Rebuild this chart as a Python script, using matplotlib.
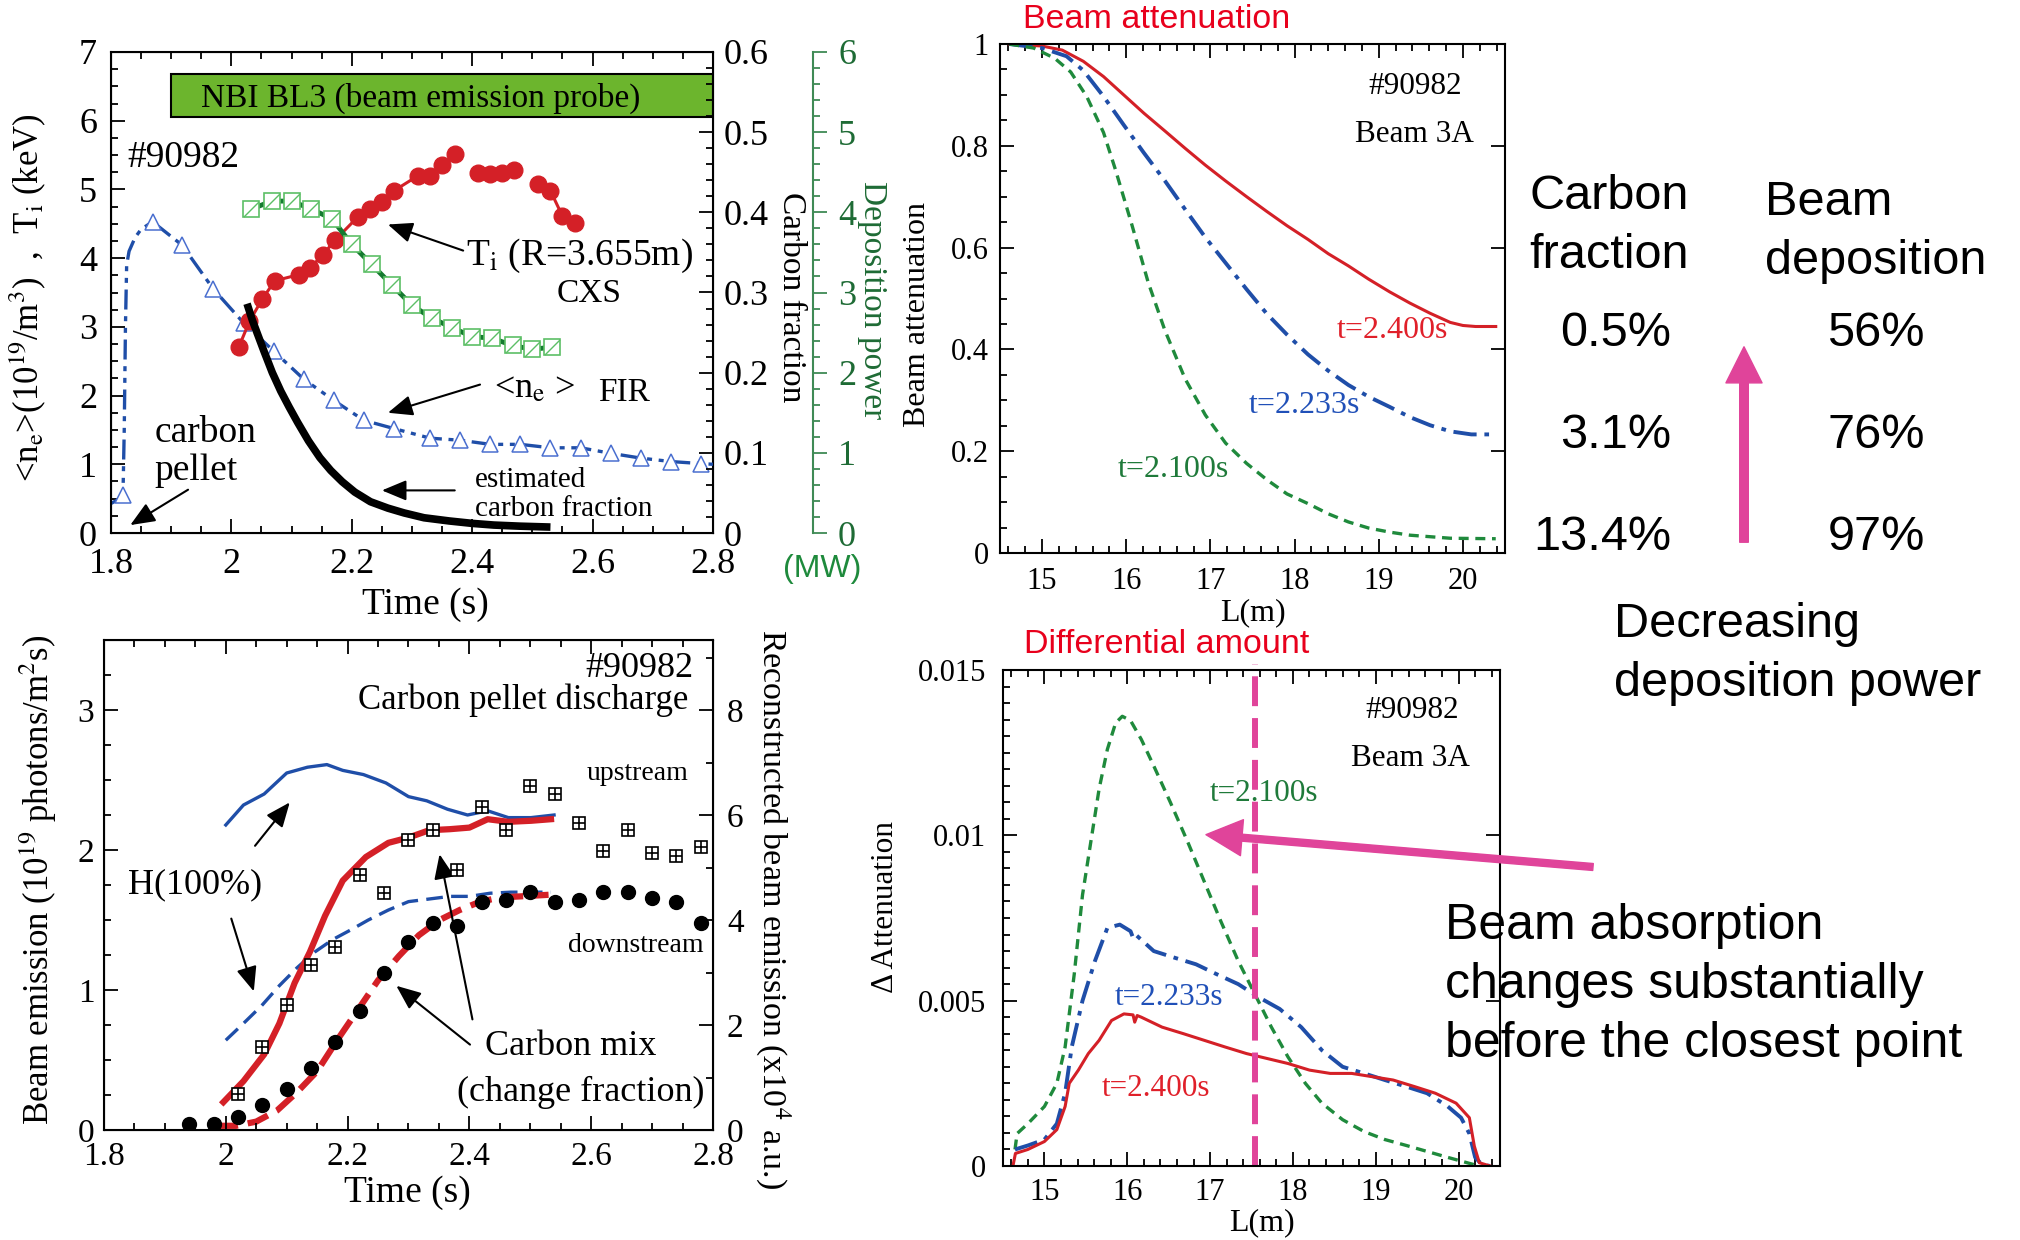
import numpy as np
import matplotlib
matplotlib.use("Agg")
import matplotlib.pyplot as plt
from matplotlib.path import Path
from matplotlib.patches import Rectangle, FancyArrowPatch
from matplotlib.ticker import MultipleLocator, FuncFormatter

plt.rcParams['font.family'] = ['Liberation Serif', 'DejaVu Serif']
plt.rcParams['mathtext.fontset'] = 'stix'

W, H = 2020, 1240
SANS = ['Liberation Sans', 'DejaVu Sans']

RED = '#d42027'
BLUE = '#1f4ea8'
GREEN = '#1f8a3c'
PINK = '#e0449a'
TITLE_RED = '#e8001c'

# ---------------- top left : density, Ti, carbon fraction, deposition ----------------
ne_line_t = [1.800, 1.815, 1.820, 1.822, 1.824, 1.826, 1.830, 1.840, 1.850, 1.869, 1.918, 1.970,
             2.021, 2.070, 2.120, 2.170, 2.220, 2.270, 2.330, 2.380, 2.430, 2.480, 2.530, 2.580,
             2.630, 2.680, 2.730, 2.780, 2.800]
ne_line_v = [0.43, 0.50, 0.60, 1.50, 3.00, 3.90, 4.10, 4.30, 4.42, 4.53, 4.19, 3.55,
             3.05, 2.65, 2.24, 1.93, 1.64, 1.52, 1.38, 1.35, 1.29, 1.29, 1.24, 1.24,
             1.16, 1.09, 1.04, 1.01, 1.00]
ne_mark_t = [1.820, 1.869, 1.918, 1.970, 2.021, 2.070, 2.120, 2.170, 2.220, 2.270, 2.330, 2.380,
             2.430, 2.480, 2.530, 2.580, 2.630, 2.680, 2.730, 2.780]
ne_mark_v = [0.55, 4.53, 4.19, 3.55, 3.05, 2.65, 2.24, 1.93, 1.64, 1.52, 1.38, 1.35,
             1.29, 1.29, 1.24, 1.24, 1.16, 1.09, 1.04, 1.01]

ti_t = [2.012, 2.030, 2.051, 2.072, 2.112, 2.130, 2.152, 2.172, 2.210, 2.230, 2.250, 2.270,
        2.310, 2.330, 2.350, 2.372, 2.390, 2.410, 2.430, 2.450, 2.470, 2.490, 2.510, 2.530,
        2.550, 2.570]
ti_v = [2.70, 3.08, 3.40, 3.67, 3.76, 3.85, 4.05, 4.26, 4.60, 4.72, 4.82, 4.98,
        5.20, 5.19, 5.35, 5.51, np.nan, 5.24, 5.23, 5.24, 5.29, np.nan, 5.08, 4.98,
        4.61, 4.51]

cf_t = [2.026, 2.035, 2.045, 2.054, 2.068, 2.082, 2.096, 2.110, 2.128, 2.147, 2.165, 2.184,
        2.205, 2.231, 2.260, 2.287, 2.320, 2.362, 2.400, 2.436, 2.480, 2.530]
cf_v = [0.286, 0.265, 0.245, 0.227, 0.200, 0.177, 0.157, 0.138, 0.115, 0.094, 0.078, 0.064,
        0.051, 0.039, 0.031, 0.025, 0.019, 0.015, 0.012, 0.0099, 0.0085, 0.0074]

dep_t = [2.033, 2.067, 2.100, 2.133, 2.167, 2.200, 2.233, 2.267, 2.300, 2.333, 2.367, 2.400,
         2.433, 2.467, 2.500, 2.533]
dep_v = [4.04, 4.14, 4.14, 4.04, 3.92, 3.60, 3.35, 3.09, 2.84, 2.68, 2.56, 2.45,
         2.43, 2.34, 2.29, 2.32]

# ---------------- bottom left : beam emission ----------------
up_h_t = [2.000, 2.029, 2.063, 2.100, 2.134, 2.166, 2.192, 2.226, 2.263, 2.300, 2.330, 2.364,
          2.397, 2.430, 2.464, 2.501, 2.539]
up_h_v = [5.81, 6.19, 6.40, 6.80, 6.91, 6.96, 6.85, 6.77, 6.61, 6.35, 6.27, 6.11,
          6.00, 6.08, 5.95, 5.95, 6.00]
dn_h_t = [2.000, 2.029, 2.059, 2.088, 2.117, 2.146, 2.176, 2.205, 2.234, 2.267, 2.300, 2.334,
          2.368, 2.400, 2.434, 2.468, 2.501, 2.534]
dn_h_v = [1.71, 2.03, 2.37, 2.75, 3.09, 3.39, 3.63, 3.81, 4.00, 4.19, 4.35, 4.40,
          4.45, 4.45, 4.51, 4.53, 4.53, 4.53]
up_c_t = [1.996, 2.029, 2.063, 2.088, 2.113, 2.138, 2.163, 2.192, 2.230, 2.267, 2.300, 2.334,
          2.368, 2.400, 2.430, 2.464, 2.501, 2.534]
up_c_v = [0.53, 0.93, 1.44, 2.03, 2.80, 3.39, 4.08, 4.75, 5.20, 5.47, 5.57, 5.71,
          5.73, 5.76, 5.92, 5.87, 5.89, 5.92]
dn_c_t = [1.984, 2.017, 2.050, 2.084, 2.117, 2.150, 2.184, 2.217, 2.250, 2.284, 2.317, 2.351,
          2.384, 2.418, 2.451, 2.484, 2.530]
dn_c_v = [0.08, 0.08, 0.16, 0.37, 0.72, 1.12, 1.73, 2.29, 2.85, 3.31, 3.71, 4.00,
          4.19, 4.35, 4.43, 4.45, 4.48]

dn_meas_t = [1.94, 1.98, 2.02, 2.06, 2.10, 2.14, 2.18, 2.22, 2.26, 2.30, 2.34, 2.38,
             2.42, 2.46, 2.50, 2.54, 2.58, 2.62, 2.66, 2.70, 2.74, 2.78]
dn_meas_v = [0.04, 0.04, 0.09, 0.18, 0.29, 0.44, 0.63, 0.85, 1.12, 1.34, 1.48, 1.46,
             1.63, 1.64, 1.70, 1.63, 1.64, 1.70, 1.70, 1.66, 1.63, 1.48]
up_meas_t = [2.02, 2.06, 2.10, 2.14, 2.18, 2.22, 2.26, 2.30, 2.34, 2.38, 2.42, 2.46,
             2.50, 2.54, 2.58, 2.62, 2.66, 2.70, 2.74, 2.78]
up_meas_v = [0.26, 0.59, 0.89, 1.18, 1.31, 1.82, 1.69, 2.07, 2.14, 1.86, 2.31, 2.14,
             2.46, 2.40, 2.19, 1.99, 2.14, 1.98, 1.96, 2.02]

# ---------------- top right : beam attenuation ----------------
att_L_400 = [14.61, 15.00, 15.24, 15.49, 15.73, 15.97, 16.21, 16.46, 16.70, 16.94, 17.18, 17.43,
             17.67, 17.91, 18.16, 18.40, 18.64, 18.88, 19.13, 19.37, 19.61, 19.85, 20.00, 20.15,
             20.39]
att_v_400 = [1.000, 0.996, 0.988, 0.966, 0.936, 0.900, 0.864, 0.829, 0.795, 0.762, 0.731, 0.700,
             0.671, 0.643, 0.616, 0.588, 0.564, 0.538, 0.513, 0.491, 0.471, 0.453, 0.447, 0.445,
             0.445]
att_L_233 = [14.61, 15.00, 15.29, 15.49, 15.73, 15.97, 16.21, 16.46, 16.70, 16.94, 17.18, 17.43,
             17.67, 17.91, 18.16, 18.40, 18.64, 18.88, 19.13, 19.37, 19.61, 19.85, 20.10, 20.39]
att_v_233 = [1.000, 0.992, 0.976, 0.948, 0.897, 0.841, 0.786, 0.731, 0.675, 0.620, 0.570, 0.518,
             0.470, 0.429, 0.390, 0.358, 0.330, 0.307, 0.287, 0.267, 0.251, 0.239, 0.233, 0.233]
att_L_100 = [14.61, 14.90, 15.15, 15.34, 15.53, 15.73, 15.87, 16.07, 16.26, 16.46, 16.70, 16.94,
             17.18, 17.43, 17.67, 17.91, 18.16, 18.40, 18.64, 18.88, 19.13, 19.37, 19.85, 20.39]
att_v_100 = [1.000, 0.992, 0.972, 0.945, 0.897, 0.826, 0.754, 0.643, 0.532, 0.437, 0.342, 0.271,
             0.216, 0.176, 0.144, 0.116, 0.097, 0.077, 0.061, 0.049, 0.041, 0.035, 0.029, 0.028]

# ---------------- bottom right : differential attenuation ----------------
dif_L_100 = [14.645, 14.67, 14.80, 15.00, 15.15, 15.25, 15.36, 15.46, 15.56, 15.66, 15.76, 15.86,
             15.94, 16.04, 16.17, 16.32, 16.52, 16.73, 16.93, 17.13, 17.34, 17.54, 17.74, 17.94,
             18.15, 18.35, 18.60, 18.86, 19.11, 19.37, 19.62, 19.87, 20.13, 20.25]
dif_v_100 = [0.0005, 0.00098, 0.00128, 0.0018, 0.0025, 0.0036, 0.0058, 0.0082, 0.0098, 0.0114,
             0.0126, 0.0134, 0.0136, 0.01347, 0.0129, 0.0121, 0.0110, 0.0098, 0.0086, 0.0074,
             0.0062, 0.0052, 0.0042, 0.0033, 0.0025, 0.0019, 0.0014, 0.00104, 0.0008, 0.00062,
             0.00044, 0.00026, 0.00008, 0.0]
dif_L_233 = [14.645, 14.80, 15.00, 15.15, 15.25, 15.33, 15.46, 15.61, 15.76, 15.91, 16.04, 16.07,
             16.10, 16.32, 16.57, 16.83, 17.08, 17.34, 17.59, 17.84, 18.10, 18.35, 18.60, 18.86,
             19.11, 19.37, 19.62, 19.87, 20.03, 20.13, 20.20, 20.28, 20.38]
dif_v_233 = [0.0005, 0.00062, 0.0008, 0.00128, 0.0022, 0.0036, 0.0050, 0.0062, 0.0072, 0.0073,
             0.0071, 0.0069, 0.0070, 0.0065, 0.0063, 0.0061, 0.0058, 0.0055, 0.0051, 0.00475,
             0.0042, 0.0035, 0.0030, 0.0028, 0.0026, 0.0024, 0.0022, 0.0018, 0.00146, 0.00098,
             0.00026, 0.00005, 0.0]
dif_L_400 = [14.62, 14.65, 14.80, 15.00, 15.15, 15.25, 15.30, 15.41, 15.53, 15.66, 15.81, 15.96,
             16.07, 16.09, 16.12, 16.17, 16.42, 16.68, 16.93, 17.18, 17.44, 17.69, 17.94, 18.20,
             18.45, 18.71, 18.96, 19.21, 19.47, 19.72, 19.97, 20.13, 20.19, 20.25, 20.38]
dif_v_400 = [0.0, 0.00038, 0.0005, 0.00074, 0.0011, 0.0018, 0.0025, 0.0029, 0.0034, 0.0038,
             0.0044, 0.0046, 0.00457, 0.00435, 0.00455, 0.0045, 0.0042, 0.0040, 0.0038, 0.0036,
             0.0034, 0.00325, 0.0031, 0.0029, 0.0028, 0.0028, 0.0027, 0.0026, 0.0024, 0.0022,
             0.0019, 0.00146, 0.0006, 0.0001, 0.0]
closest_L = 17.54

carbon_fracs = ['0.5%', '3.1%', '13.4%']
depositions = ['56%', '76%', '97%']
row_y = [333, 435, 537]


def fmt(v, _):
    return '%g' % round(v, 6)


def style_axes(ax, size, xmaj, xmin, ymaj, ymin, pad_x, pad_y):
    ax.xaxis.set_major_locator(MultipleLocator(xmaj))
    ax.xaxis.set_minor_locator(MultipleLocator(xmin))
    ax.yaxis.set_major_locator(MultipleLocator(ymaj))
    ax.yaxis.set_minor_locator(MultipleLocator(ymin))
    ax.xaxis.set_major_formatter(FuncFormatter(fmt))
    ax.yaxis.set_major_formatter(FuncFormatter(fmt))
    ax.tick_params(which='both', direction='in', top=True, width=1.3)
    ax.tick_params(which='major', length=10)
    ax.tick_params(which='minor', length=5)
    ax.tick_params(axis='x', labelsize=size, pad=pad_x)
    ax.tick_params(axis='y', labelsize=size, pad=pad_y)
    for s in ax.spines.values():
        s.set_linewidth(1.5)


def center_labels(*labels):
    for lab in labels:
        lab.set_va('center')
        lab.set_ha('center')


fig = plt.figure(figsize=(W / 100, H / 100), dpi=100)

# ======================= top left =======================
tl_top, tl_bot = 52, 533
ax1 = fig.add_axes([111 / W, 1 - tl_bot / H, 602 / W, (tl_bot - tl_top) / H])
ax1.set_xlim(1.8, 2.8)
ax1.set_ylim(0, 7)
ax_cf = ax1.twinx()
ax_cf.set_ylim(0, 0.6)
ax_dp = ax1.twinx()
ax_dp.set_ylim(0, 6)

style_axes(ax1, 26, 0.2, 0.05, 1, 0.25, 11, 10)
ax1.tick_params(right=False)
ax_cf.yaxis.set_major_locator(MultipleLocator(0.1))
ax_cf.yaxis.set_minor_locator(MultipleLocator(0.02))
ax_cf.yaxis.set_major_formatter(FuncFormatter(fmt))
ax_cf.tick_params(which='both', direction='in', width=1.3, labelsize=26, pad=8)
ax_cf.tick_params(which='major', length=10)
ax_cf.tick_params(which='minor', length=5)

dp_spine = '#3f8a55'
for k in ['left', 'top', 'bottom']:
    ax_dp.spines[k].set_visible(False)
ax_dp.spines['right'].set_position(('axes', (813 - 111) / 602))
ax_dp.spines['right'].set_color(dp_spine)
ax_dp.spines['right'].set_linewidth(1.5)
ax_dp.yaxis.set_major_locator(MultipleLocator(1))
ax_dp.yaxis.set_minor_locator(MultipleLocator(0.2))
ax_dp.tick_params(which='both', direction='out', color=dp_spine, width=1.3,
                  labelcolor='#1e6b35', labelsize=26, pad=8)
ax_dp.tick_params(which='major', length=10)
ax_dp.tick_params(which='minor', length=5)

# NBI bar
ax1.add_patch(Rectangle((1.9, 6.05), 0.9, 0.63, facecolor='#6cb52d', edgecolor='k',
                        lw=1.5, zorder=2))
ax1.text(2.315, 6.33, 'NBI BL3 (beam emission probe)', ha='center', va='center',
         fontsize=24, zorder=3)

ax1.plot(ne_line_t, ne_line_v, color=BLUE, lw=2.4, dashes=[6, 2, 1.5, 2, 1.5, 2], zorder=3)
ax1.plot(ne_mark_t, ne_mark_v, ls='none', marker='^', ms=11, mfc='white', mec='#4a6fd0',
         mew=1.1, zorder=4)
ax1.plot(ti_t, ti_v, color=RED, lw=2.2, marker='o', ms=12, mfc=RED, mec=RED, zorder=4)
ax_cf.plot(cf_t, cf_v, color='k', lw=5.5, solid_capstyle='butt', zorder=3)
ax_dp.plot(dep_t, dep_v, color='#157a30', lw=3.5, zorder=3)
ax_dp.plot(dep_t, dep_v, ls='none', marker='s', ms=11, mfc='white', mec='#5cbf66',
           mew=1.2, zorder=4)
slash = Path([(-1, -1), (1, 1)], [Path.MOVETO, Path.LINETO])
ax_dp.plot(dep_t, dep_v, ls='none', marker=slash, ms=11, mec='#5cbf66', mew=1.0, zorder=5)

ax1.text(1.828, 5.46, '#90982', fontsize=27, ha='left', va='center')
ax1.text(2.39, 4.03, r'T$_\mathrm{i}$ (R=3.655m)', fontsize=27, ha='left', va='center')
ax1.text(2.595, 3.48, 'CXS', fontsize=24, ha='center', va='center')
ax1.text(2.436, 2.10, r'<n$_\mathrm{e}$ >', fontsize=26, ha='left', va='center')
ax1.text(2.609, 2.04, 'FIR', fontsize=24, ha='left', va='center')
ax1.text(1.872, 1.18, 'carbon\npellet', fontsize=27, ha='left', va='center', linespacing=1.15)
ax1.text(2.404, 0.56, 'estimated\ncarbon fraction', fontsize=21, ha='left', va='center',
         linespacing=1.15)

arr = dict(arrowstyle='-|>,head_length=0.6,head_width=0.25', mutation_scale=25, color='k',
           lw=1.5, shrinkA=0, shrinkB=0)
ax1.annotate('', xy=(2.26, 4.49), xytext=(2.385, 4.11), arrowprops=arr)
ax1.annotate('', xy=(2.26, 1.75), xytext=(2.413, 2.16), arrowprops=arr)
ax1.annotate('', xy=(1.832, 0.115), xytext=(1.928, 0.63), arrowprops=arr)
ax1.annotate('', xy=(2.25, 0.62), xytext=(2.371, 0.62), arrowprops=arr)

ax1.set_xlabel('Time (s)', fontsize=27)
ax1.xaxis.set_label_coords(0.523, -0.148)
ax1.set_ylabel(r'<n$_\mathrm{e}$>(10$^{19}$/m$^3$)  ,  T$_\mathrm{i}$ (keV)', fontsize=25)
ax1.yaxis.set_label_coords(-0.138, 0.49)
ax_cf.set_ylabel('Carbon fraction', fontsize=24, rotation=270)
ax_cf.yaxis.set_label_coords(1.130, 0.49)
ax_dp.set_ylabel('Deposition power', fontsize=24, rotation=270, color='#1e6b35')
ax_dp.yaxis.set_label_coords(1.264, 0.485)
center_labels(ax1.xaxis.label, ax1.yaxis.label, ax_cf.yaxis.label, ax_dp.yaxis.label)
ax1.text(1.181, -0.075, '(MW)', transform=ax1.transAxes, fontsize=23, family=SANS,
         color='#1e8a3c', ha='center', va='center')

# ======================= bottom left =======================
ax2 = fig.add_axes([104 / W, 1 - 1130 / H, 609 / W, 490 / H])
ax2.set_xlim(1.8, 2.8)
ax2.set_ylim(0, 3.5)
ax2r = ax2.twinx()
ax2r.set_ylim(0, 3.5 * 8 / 3)
style_axes(ax2, 24, 0.2, 0.05, 1, 0.25, 8, 7)
ax2.tick_params(right=False)
ax2r.yaxis.set_major_locator(MultipleLocator(2))
ax2r.yaxis.set_minor_locator(MultipleLocator(1))
ax2r.tick_params(which='both', direction='in', width=1.3, labelsize=24, pad=10)
ax2r.tick_params(which='major', length=10)
ax2r.tick_params(which='minor', length=5)

ax2r.plot(up_h_t, up_h_v, color=BLUE, lw=2.4)
ax2r.plot(dn_h_t, dn_h_v, color=BLUE, lw=2.4, dashes=[5, 2.5])
ax2r.plot(up_c_t, up_c_v, color=RED, lw=4.5)
ax2r.plot(dn_c_t, dn_c_v, color=RED, lw=4.5, dashes=[3.5, 1.6])
ax2.plot(dn_meas_t, dn_meas_v, ls='none', marker='o', ms=10, color='k', zorder=5)
ax2.plot(up_meas_t, up_meas_v, ls='none', marker='s', ms=9, mfc='white', mec='k', mew=1.2,
         zorder=5)
ax2.plot(up_meas_t, up_meas_v, ls='none', marker='+', ms=9, mec='k', mew=1.2, zorder=6)
ax2.set_zorder(ax2r.get_zorder() + 1)
ax2.patch.set_visible(False)

ax2.text(2.768, 3.30, '#90982', fontsize=26, ha='right', va='center')
ax2.text(2.76, 3.07, 'Carbon pellet discharge', fontsize=25, ha='right', va='center')
ax2.text(2.76, 2.55, 'upstream', fontsize=20, ha='right', va='center')
ax2.text(2.785, 1.315, 'downstream', fontsize=20, ha='right', va='center')
ax2.text(1.84, 1.754, 'H(100%)', fontsize=26, ha='left', va='center')
ax2.text(2.426, 0.594, 'Carbon mix', fontsize=26, ha='left', va='center')
ax2.text(2.38, 0.269, '(change fraction)', fontsize=26, ha='left', va='center')
ax2.annotate('', xy=(2.105, 2.34), xytext=(2.048, 2.03), arrowprops=arr)
ax2.annotate('', xy=(2.046, 0.99), xytext=(2.009, 1.51), arrowprops=arr)
ax2.annotate('', xy=(2.351, 1.97), xytext=(2.405, 0.79), arrowprops=arr)
ax2.annotate('', xy=(2.28, 1.03), xytext=(2.401, 0.61), arrowprops=arr)

ax2.set_xlabel('Time (s)', fontsize=27)
ax2.xaxis.set_label_coords(0.4975, -0.128)
ax2.set_ylabel(r'Beam emission (10$^{19}$ photons/m$^2$s)', fontsize=25)
ax2.yaxis.set_label_coords(-0.108, 0.51)
ax2r.set_ylabel(r'Reconstructed beam emission (x10$^4$ a.u.)', fontsize=24.5, rotation=270)
ax2r.yaxis.set_label_coords(1.098, 0.45)
center_labels(ax2.xaxis.label, ax2.yaxis.label, ax2r.yaxis.label)

# ======================= top right =======================
ax3 = fig.add_axes([1000 / W, 1 - 553 / H, 505 / W, 509 / H])
ax3.set_xlim(14.5, 20.5)
ax3.set_ylim(0, 1)
style_axes(ax3, 22, 1, 0.2, 0.2, 0.05, 10, 8)
ax3.tick_params(right=True)
ax3.plot(att_L_400, att_v_400, color=RED, lw=2.2)
ax3.plot(att_L_233, att_v_233, color=BLUE, lw=2.8, dashes=[6, 2, 1.2, 2])
ax3.plot(att_L_100, att_v_100, color=GREEN, lw=2.4, dashes=[3, 2])
ax3.text(19.43, 0.917, '#90982', fontsize=22.5, ha='center', va='center')
ax3.text(19.42, 0.822, 'Beam 3A', fontsize=22.5, ha='center', va='center')
ax3.text(18.5, 0.437, 't=2.400s', fontsize=23, color='#e0202a', ha='left', va='center')
ax3.text(17.45, 0.29, 't=2.233s', fontsize=23, color='#2050b8', ha='left', va='center')
ax3.text(15.9, 0.164, 't=2.100s', fontsize=23, color='#1f7a3a', ha='left', va='center')
ax3.set_xlabel('L(m)', fontsize=23)
ax3.xaxis.set_label_coords(0.501, -0.118)
ax3.set_ylabel('Beam attenuation', fontsize=23)
ax3.yaxis.set_label_coords(-0.164, 0.469)
center_labels(ax3.xaxis.label, ax3.yaxis.label)

# ======================= bottom right =======================
ax4 = fig.add_axes([1003 / W, 1 - 1166 / H, 497 / W, 496 / H])
ax4.set_xlim(14.5, 20.5)
ax4.set_ylim(0, 0.015)
style_axes(ax4, 22, 1, 0.2, 0.005, 0.0005, 9, 12)
ax4.tick_params(right=True)
ax4.plot(dif_L_100, dif_v_100, color=GREEN, lw=2.4, dashes=[3, 2])
ax4.plot(dif_L_233, dif_v_233, color=BLUE, lw=2.8, dashes=[6, 2, 1.2, 2])
ax4.plot(dif_L_400, dif_v_400, color=RED, lw=2.2)
ax4.axvline(closest_L, ymin=0, ymax=1.012, color=PINK, lw=4.3, dashes=[5, 2], clip_on=False)
ax4.text(19.44, 0.01377, '#90982', fontsize=22.5, ha='center', va='center')
ax4.text(19.42, 0.01233, 'Beam 3A', fontsize=22.5, ha='center', va='center')
ax4.text(17.0, 0.01126, 't=2.100s', fontsize=22.5, color='#1f7a3a', ha='left', va='center')
ax4.text(15.85, 0.0051, 't=2.233s', fontsize=22.5, color='#2050b8', ha='left', va='center')
ax4.text(15.69, 0.00235, 't=2.400s', fontsize=22.5, color='#e0202a', ha='left', va='center')
ax4.annotate('', xy=(16.95, 0.01002), xycoords='data',
             xytext=(1593 / W, 1 - 867 / H), textcoords='figure fraction',
             arrowprops=dict(arrowstyle='simple,head_length=2.6,head_width=2.6,tail_width=0.5',
                             mutation_scale=10, color=PINK, shrinkA=0, shrinkB=0),
             annotation_clip=False)
ax4.set_xlabel('L(m)', fontsize=23)
ax4.xaxis.set_label_coords(0.521, -0.115)
ax4.set_ylabel('Δ Attenuation', fontsize=22.5)
ax4.yaxis.set_label_coords(-0.237, 0.522)
center_labels(ax4.xaxis.label, ax4.yaxis.label)

# ======================= free text =======================
fig.text(1023 / W, 1 - 20 / H, 'Beam attenuation', family=SANS, fontsize=24.5,
         color=TITLE_RED, ha='left', va='center')
fig.text(1024 / W, 1 - 644 / H, 'Differential amount', family=SANS, fontsize=24.5,
         color=TITLE_RED, ha='left', va='center')

fig.text(1529 / W, 1 - 226 / H, 'Carbon\nfraction', family=SANS, fontsize=35,
         ha='left', va='center', linespacing=1.38)
fig.text(1765 / W, 1 - 232 / H, 'Beam\ndeposition', family=SANS, fontsize=35,
         ha='left', va='center', linespacing=1.38)
for cf, dep, y in zip(carbon_fracs, depositions, row_y):
    fig.text(1671 / W, 1 - y / H, cf, family=SANS, fontsize=35, ha='right', va='center')
    fig.text(1876 / W, 1 - y / H, dep, family=SANS, fontsize=35, ha='center', va='center')
fig.add_artist(FancyArrowPatch((1744 / W, 1 - 545 / H), (1744 / W, 1 - 344 / H),
                               transform=fig.transFigure, color=PINK, mutation_scale=10,
                               arrowstyle='simple,head_length=2.6,head_width=2.6,tail_width=0.62'))
fig.text(1614 / W, 1 - 654 / H, 'Decreasing\ndeposition power', family=SANS, fontsize=35,
         ha='left', va='center', linespacing=1.4)
fig.text(1445 / W, 1 - 985 / H,
         'Beam absorption\nchanges substantially\nbefore the closest point',
         family=SANS, fontsize=36, ha='left', va='center', linespacing=1.36)

fig.savefig('out.png', dpi=100)
